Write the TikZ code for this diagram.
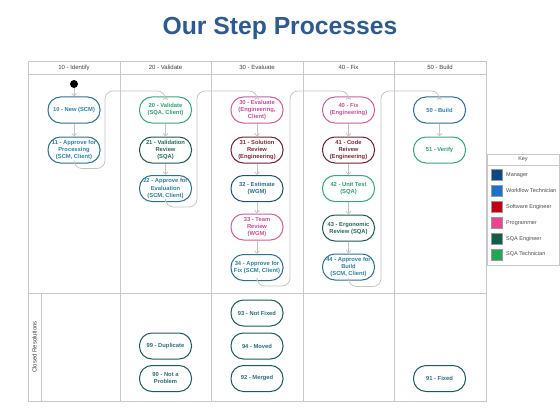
\documentclass[tikz,border=0pt]{standalone}
\usepackage{fontspec}
\setmainfont{Liberation Sans}
\usetikzlibrary{arrows.meta}
\definecolor{titleC}{HTML}{2E5B8F}
\definecolor{gridC}{HTML}{C8C8C8}
\definecolor{lineC}{HTML}{C4C4C4}
\definecolor{tbB}{HTML}{2D6F8C}\definecolor{tbT}{HTML}{2F80A6}
\definecolor{grB}{HTML}{3AA57A}\definecolor{grT}{HTML}{2FA070}
\definecolor{dgB}{HTML}{1E5A4E}\definecolor{dgT}{HTML}{2A6A5A}
\definecolor{pkB}{HTML}{CC5FA0}\definecolor{pkT}{HTML}{C4509A}
\definecolor{mrB}{HTML}{6E2232}\definecolor{mrT}{HTML}{7A2A38}
\definecolor{nvB}{HTML}{26506A}\definecolor{nvT}{HTML}{2D6F90}
\definecolor{btB}{HTML}{1F5A5A}\definecolor{btT}{HTML}{2A6E7A}
\definecolor{kMan}{HTML}{0D4A84}
\definecolor{kWfl}{HTML}{1A73C8}
\definecolor{kSwe}{HTML}{C00010}
\definecolor{kPrg}{HTML}{E8468E}
\definecolor{kSqe}{HTML}{0E5E4A}
\definecolor{kSqt}{HTML}{22A855}
\begin{document}
\begin{tikzpicture}[x=1pt,y=-1pt,
  stepnode/.style={draw, line width=1pt, rounded corners=12.5pt, minimum width=52pt,
    minimum height=26pt, inner sep=1pt, align=center,
    font=\fontsize{5.8}{7}\selectfont\bfseries},
  tb/.style={draw=tbB, text=tbT},
  gr/.style={draw=grB, text=grT},
  dg/.style={draw=dgB, text=dgT},
  pk/.style={draw=pkB, text=pkT},
  mr/.style={draw=mrB, text=mrT},
  nv/.style={draw=nvB, text=nvT},
  bt/.style={draw=btB, text=btT},
  conn/.style={draw=lineC, line width=0.75pt, -{Straight Barb[length=2.5pt,width=4.5pt]}},
  longconn/.style={conn, rounded corners=8pt},
  gridline/.style={draw=gridC, line width=0.6pt},
  headtext/.style={text=black!75, font=\fontsize{6}{7}\selectfont, inner sep=0pt},
  keytext/.style={text=black!70, font=\fontsize{5.5}{6.5}\selectfont, anchor=west, inner sep=0pt},
  swatch/.style={draw=black!40, line width=0.3pt, minimum size=11pt, inner sep=0pt}
]
\useasboundingbox (0,0) rectangle (560,420);
\fill[white] (0,0) rectangle (560,420);

% title
\node[text=titleC, font=\fontsize{24.7}{28}\selectfont\bfseries, anchor=base, inner sep=0pt] (title) at (280,35) {Our Step Processes};

% table grid
\draw[gridline] (28,61) rectangle (486,401);
\draw[gridline] (28,74) -- (486,74);
\draw[gridline] (28,293) -- (486,293);
\foreach \x in {120,211,303,394} \draw[gridline] (\x,61) -- (\x,401);
\draw[gridline] (41,293) -- (41,401);

% headers
\node[headtext] (h1) at (74,67.5) {10 - Identify};
\node[headtext] (h2) at (165.5,67.5) {20 - Validate};
\node[headtext] (h3) at (257,67.5) {30 - Evaluate};
\node[headtext] (h4) at (348.5,67.5) {40 - Fix};
\node[headtext] (h5) at (440,67.5) {50 - Build};
\node[headtext, rotate=90] (hc) at (34.5,347) {Closed Resolutions};

% start
\node[circle, fill=black, inner sep=0pt, minimum size=8pt] (start) at (74,84) {};

% column 1
\node[stepnode, tb] (n10) at (74,110) {10 - New (SCM)};
\node[stepnode, tb] (n11) at (74,150) {11 - Approve for\\Processing\\(SCM, Client)};
% column 2
\node[stepnode, gr] (n20) at (165.5,110) {20 - Validate\\(SQA, Client)};
\node[stepnode, dg] (n21) at (165.5,150) {21 - Validation\\Review\\(SQA)};
\node[stepnode, tb] (n22) at (165.5,188.5) {22 - Approve for\\Evaluation\\(SCM, Client)};
% column 3
\node[stepnode, pk] (n30) at (257,110) {30 - Evaluate\\(Engineering,\\Client)};
\node[stepnode, mr] (n31) at (257,150) {31 - Solution\\Review\\(Engineering)};
\node[stepnode, nv] (n32) at (257,188.5) {32 - Estimate\\(WGM)};
\node[stepnode, pk] (n33) at (257,227) {33 - Team\\Review\\(WGM)};
\node[stepnode, tb] (n34) at (257,267.5) {34 - Approve for\\Fix (SCM, Client)};
% column 4
\node[stepnode, pk] (n40) at (348.5,110) {40 - Fix\\(Engineering)};
\node[stepnode, mr] (n41) at (348.5,150) {41 - Code\\Reivew\\(Engineering)};
\node[stepnode, gr] (n42) at (348.5,188.5) {42 - Unit Test\\(SQA)};
\node[stepnode, dg] (n43) at (348.5,228) {43 - Ergonomic\\Review (SQA)};
\node[stepnode, tb] (n44) at (348.5,267) {44 - Approve for\\Build\\(SCM, Client)};
% column 5
\node[stepnode, tb] (n50) at (439.5,110) {50 - Build};
\node[stepnode, gr] (n51) at (439.5,150) {51 - Verify};

% closed resolutions
\node[stepnode, bt] (n93) at (257,313) {93 - Not Fixed};
\node[stepnode, bt] (n94) at (257,346) {94 - Moved};
\node[stepnode, bt] (n92) at (257,378.5) {92 - Merged};
\node[stepnode, bt] (n99) at (165.5,346) {99 - Duplicate};
\node[stepnode, bt] (n90) at (165.5,378.5) {90 - Not a\\Problem};
\node[stepnode, bt] (n91) at (439.5,378.5) {91 - Fixed};

% vertical connectors
\draw[conn] (start) -- (n10);
\draw[conn] (n10) -- (n11);
\draw[conn] (n20) -- (n21);
\draw[conn] (n21) -- (n22);
\draw[conn] (n30) -- (n31);
\draw[conn] (n31) -- (n32);
\draw[conn] (n32) -- (n33);
\draw[conn] (n33) -- (n34);
\draw[conn] (n40) -- (n41);
\draw[conn] (n41) -- (n42);
\draw[conn] (n42) -- (n43);
\draw[conn] (n43) -- (n44);
\draw[conn] (n50) -- (n51);

% column-to-column connectors
\coordinate (r1) at (105,91);
\coordinate (r2) at (197,91);
\coordinate (r3) at (290,91);
\coordinate (r4) at (381,91);
\draw[longconn] (n11.south) -- ++(0,5) -| (r1) -| (n20.north);
\draw[longconn] (n22.south) -- ++(0,5) -| (r2) -| (n30.north);
\draw[longconn] (n34.south) -- ++(0,5) -| (r3) -| (n40.north);
\draw[longconn] (n44.south) -- ++(0,6) -| (r4) -| (n50.north);

% key
\draw[gridline] (487,154) rectangle (559.6,265);
\draw[gridline] (487,165) -- (559.6,165);
\node[keytext, anchor=center] (keyt) at (523,159.5) {Key};
\node[swatch, fill=kMan] (s1) at (496.5,175) {};
\node[swatch, fill=kWfl] (s2) at (496.5,191) {};
\node[swatch, fill=kSwe] (s3) at (496.5,207) {};
\node[swatch, fill=kPrg] (s4) at (496.5,223) {};
\node[swatch, fill=kSqe] (s5) at (496.5,239) {};
\node[swatch, fill=kSqt] (s6) at (496.5,254.5) {};
\node[keytext] (k1) at (506,175) {Manager};
\node[keytext] (k2) at (506,191) {Workflow Technician};
\node[keytext] (k3) at (506,207) {Software Engineer};
\node[keytext] (k4) at (506,223) {Programmer};
\node[keytext] (k5) at (506,239) {SQA Engineer};
\node[keytext] (k6) at (506,254.5) {SQA Technician};
\end{tikzpicture}
\end{document}
